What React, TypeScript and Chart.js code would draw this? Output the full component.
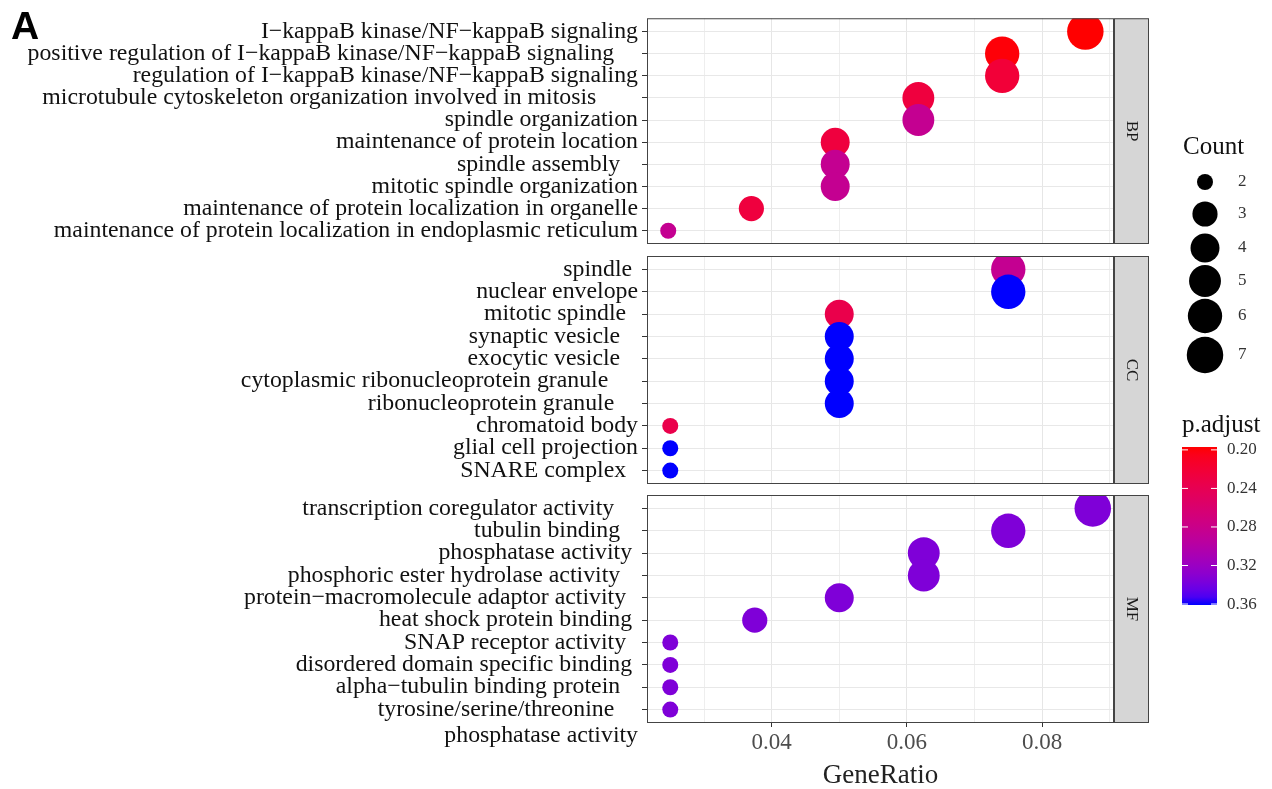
import React, { useEffect, useRef } from "react";
import { Chart, registerables } from "chart.js";
Chart.register(...registerables);

// ---------------- data ----------------
const bpTerms = [
  "I−kappaB kinase/NF−kappaB signaling",
  "positive regulation of I−kappaB kinase/NF−kappaB signaling    ",
  "regulation of I−kappaB kinase/NF−kappaB signaling",
  "microtubule cytoskeleton organization involved in mitosis       ",
  "spindle organization",
  "maintenance of protein location",
  "spindle assembly   ",
  "mitotic spindle organization",
  "maintenance of protein localization in organelle",
  "maintenance of protein localization in endoplasmic reticulum",
];
const bpGeneRatio = [0.0864, 0.0741, 0.0741, 0.0617, 0.0617, 0.0494, 0.0494, 0.0494, 0.037, 0.0247];
const bpCount = [7, 6, 6, 5, 5, 4, 4, 4, 3, 2];
const bpPadjust = [0.197, 0.199, 0.222, 0.226, 0.285, 0.226, 0.285, 0.285, 0.226, 0.285];

const ccTerms = [
  "spindle ",
  "nuclear envelope",
  "mitotic spindle  ",
  "synaptic vesicle   ",
  "exocytic vesicle   ",
  "cytoplasmic ribonucleoprotein granule     ",
  "ribonucleoprotein granule    ",
  "chromatoid body",
  "glial cell projection",
  "SNARE complex  ",
];
const ccGeneRatio = [0.075, 0.075, 0.05, 0.05, 0.05, 0.05, 0.05, 0.025, 0.025, 0.025];
const ccCount = [6, 6, 4, 4, 4, 4, 4, 2, 2, 2];
const ccPadjust = [0.285, 0.361, 0.235, 0.361, 0.361, 0.361, 0.361, 0.235, 0.361, 0.361];

const mfTerms = [
  "transcription coregulator activity    ",
  "tubulin binding   ",
  "phosphatase activity ",
  "phosphoric ester hydrolase activity   ",
  "protein−macromolecule adaptor activity  ",
  "heat shock protein binding ",
  "SNAP receptor activity  ",
  "disordered domain specific binding ",
  "alpha−tubulin binding protein   ",
  "tyrosine/serine/threonine    \nphosphatase activity",
];
const mfGeneRatio = [0.0875, 0.075, 0.0625, 0.0625, 0.05, 0.0375, 0.025, 0.025, 0.025, 0.025];
const mfCount = [7, 6, 5, 5, 4, 3, 2, 2, 2, 2];
const mfPadjust = [0.335, 0.335, 0.335, 0.335, 0.335, 0.335, 0.335, 0.335, 0.335, 0.335];

const xTickValues = [0.03, 0.04, 0.05, 0.06, 0.07, 0.08, 0.09];
const xMajorLabels = ["0.04", "0.06", "0.08"];
const countLegendValues = [2, 3, 4, 5, 6, 7];
const padjLegendValues = [0.2, 0.24, 0.28, 0.32, 0.36];
const panelNames = ["BP", "CC", "MF"];

// ---------------- helpers ----------------
const SERIF = "'Liberation Serif', 'Times New Roman', serif";
Chart.defaults.font.family = SERIF;

const allRatios = [...bpGeneRatio, ...ccGeneRatio, ...mfGeneRatio];
const allCounts = [...bpCount, ...ccCount, ...mfCount];
const allPadj = [...bpPadjust, ...ccPadjust, ...mfPadjust];
const rMin = Math.min(...allRatios);
const rMax = Math.max(...allRatios);
const X_MIN = rMin - (rMax - rMin) * 0.05;
const X_MAX = rMax + (rMax - rMin) * 0.05;
const cMin = Math.min(...allCounts);
const cMax = Math.max(...allCounts);
const pMin = Math.min(...allPadj);
const pMax = Math.max(...allPadj);

function sizeFor(c: number) {
  const t = (c - cMin) / (cMax - cMin);
  return (16 + Math.sqrt(t) * 20.5) / 2;
}

function s2l(c: number) {
  c /= 255;
  return c <= 0.04045 ? c / 12.92 : Math.pow((c + 0.055) / 1.055, 2.4);
}
function l2s(c: number) {
  const v = c <= 0.0031308 ? 12.92 * c : 1.055 * Math.pow(c, 1 / 2.4) - 0.055;
  return Math.round(Math.min(1, Math.max(0, v)) * 255);
}
function rgbToLab(rgb: number[]) {
  const R = s2l(rgb[0]), G = s2l(rgb[1]), B = s2l(rgb[2]);
  const X = (0.4124564 * R + 0.3575761 * G + 0.1804375 * B) / 0.95047;
  const Y = 0.2126729 * R + 0.7151522 * G + 0.072175 * B;
  const Z = (0.0193339 * R + 0.119192 * G + 0.9503041 * B) / 1.08883;
  const f = (t: number) => (t > 216 / 24389 ? Math.cbrt(t) : ((24389 / 27) * t + 16) / 116);
  const fx = f(X), fy = f(Y), fz = f(Z);
  return [116 * fy - 16, 500 * (fx - fy), 200 * (fy - fz)];
}
function labToRgb(lab: number[]) {
  const fy = (lab[0] + 16) / 116;
  const fx = fy + lab[1] / 500;
  const fz = fy - lab[2] / 200;
  const finv = (t: number) => (t * t * t > 216 / 24389 ? t * t * t : (116 * t - 16) / (24389 / 27));
  const X = finv(fx) * 0.95047, Y = finv(fy), Z = finv(fz) * 1.08883;
  const R = 3.2404542 * X - 1.5371385 * Y - 0.4985314 * Z;
  const G = -0.969266 * X + 1.8760108 * Y + 0.041556 * Z;
  const B = 0.0556434 * X - 0.2040259 * Y + 1.0572252 * Z;
  return [l2s(R), l2s(G), l2s(B)];
}
const LAB_LOW = rgbToLab([255, 0, 0]);
const LAB_HIGH = rgbToLab([0, 0, 255]);
function colorAt(t: number) {
  const lab = LAB_LOW.map((v, i) => v + (LAB_HIGH[i] - v) * t);
  const [r, g, b] = labToRgb(lab);
  return `rgb(${r},${g},${b})`;
}
function colorFor(p: number) {
  return colorAt((p - pMin) / (pMax - pMin));
}

// ---------------- layout ----------------
const W = 1272;
const H = 789;
const PLOT_LEFT = 647;
const PLOT_RIGHT = 1114;
const STRIP_W = 35;
const PANELS = [
  { top: 16, bottom: 244 },
  { top: 256, bottom: 484 },
  { top: 495, bottom: 723 },
];

function framePlugin(name: string) {
  return {
    id: "frame" + name,
    afterDatasetsDraw(chart: any) {
      const { ctx, chartArea } = chart;
      const { left, right, top, bottom } = chartArea;
      ctx.save();
      ctx.strokeStyle = "#444";
      ctx.lineWidth = 1;
      ctx.strokeRect(left + 0.5, top + 0.5, right - left - 1, bottom - top - 1);
      // strip
      ctx.fillStyle = "#d6d6d6";
      ctx.fillRect(right, top, STRIP_W, bottom - top);
      ctx.strokeStyle = "#444";
      ctx.strokeRect(right + 0.5, top + 0.5, STRIP_W - 1, bottom - top - 1);
      ctx.translate(right + STRIP_W / 2, (top + bottom) / 2);
      ctx.rotate(Math.PI / 2);
      ctx.fillStyle = "#1a1a1a";
      ctx.font = `17px ${SERIF}`;
      ctx.textAlign = "center";
      ctx.textBaseline = "middle";
      ctx.fillText(name, 0, 0);
      ctx.restore();
    },
  };
}

const legendPlugin = {
  id: "legendPlugin",
  afterDraw(chart: any) {
    const ctx = chart.ctx;
    ctx.save();
    // panel tag
    ctx.fillStyle = "#000";
    ctx.font = `bold 39px 'Liberation Sans', Arial, sans-serif`;
    ctx.textAlign = "left";
    ctx.textBaseline = "alphabetic";
    ctx.fillText("A", 11, 39);

    // Count legend
    ctx.font = `25px ${SERIF}`;
    ctx.fillStyle = "#111";
    ctx.textBaseline = "middle";
    ctx.fillText("Count", 1183, 147);
    const keyY = [182, 214, 248, 281, 316, 355];
    countLegendValues.forEach((c, i) => {
      ctx.beginPath();
      ctx.fillStyle = "#000";
      ctx.arc(1205, keyY[i], sizeFor(c), 0, Math.PI * 2);
      ctx.fill();
      ctx.fillStyle = "#333";
      ctx.font = `17px ${SERIF}`;
      ctx.fillText(String(c), 1238, keyY[i]);
    });

    // p.adjust colourbar
    ctx.font = `25px ${SERIF}`;
    ctx.fillStyle = "#111";
    ctx.fillText("p.adjust", 1182, 425);
    const bx = 1182, bw = 35, by0 = 447, by1 = 605;
    const grad = ctx.createLinearGradient(0, by0, 0, by1);
    for (let i = 0; i <= 20; i++) grad.addColorStop(i / 20, colorAt(i / 20));
    ctx.fillStyle = grad;
    ctx.fillRect(bx, by0, bw, by1 - by0);
    ctx.font = `17px ${SERIF}`;
    padjLegendValues.forEach((v) => {
      const y = by0 + ((v - pMin) / (pMax - pMin)) * (by1 - by0);
      ctx.strokeStyle = "#fff";
      ctx.lineWidth = 1;
      ctx.beginPath();
      ctx.moveTo(bx, y);
      ctx.lineTo(bx + 6, y);
      ctx.moveTo(bx + bw - 6, y);
      ctx.lineTo(bx + bw, y);
      ctx.stroke();
      ctx.fillStyle = "#333";
      ctx.fillText(v.toFixed(2), 1227, y);
    });
    ctx.restore();
  },
};

function makeConfig(idx: number, terms: string[], ratio: number[], count: number[], padj: number[]) {
  const isBottom = idx === 2;
  const p = PANELS[idx];
  const xAxisH = isBottom ? H - p.bottom : 0;
  const plugins: any[] = [framePlugin(panelNames[idx])];
  if (idx === 0) plugins.push(legendPlugin);
  return {
    type: "scatter" as const,
    data: {
      datasets: [
        {
          data: terms.map((_, i) => ({ x: ratio[i], y: i })),
          pointRadius: count.map(sizeFor),
          pointHoverRadius: count.map(sizeFor),
          pointBackgroundColor: padj.map(colorFor),
          pointBorderWidth: 0,
          clip: 0,
        },
      ],
    },
    options: {
      responsive: false,
      animation: false as const,
      events: [] as any[],
      layout: {
        padding: { top: p.top, bottom: H - p.bottom - xAxisH, left: 0, right: W - PLOT_RIGHT },
      },
      plugins: { legend: { display: false }, tooltip: { enabled: false } },
      scales: {
        x: {
          type: "linear" as const,
          min: X_MIN,
          max: X_MAX,
          afterBuildTicks: (s: any) => {
            s.ticks = xTickValues.map((v) => ({ value: v }));
          },
          afterFit: (s: any) => {
            s.height = xAxisH;
          },
          ticks: {
            display: isBottom,
            autoSkip: false,
            maxRotation: 0,
            padding: 2,
            color: "#4d4d4d",
            font: { size: 23, family: SERIF },
            callback: (v: any) => {
              const s = Number(v).toFixed(2);
              return xMajorLabels.includes(s) ? s : "";
            },
          },
          grid: {
            color: (c: any) => {
              const s = c.tick ? Number(c.tick.value).toFixed(2) : "";
              return xMajorLabels.includes(s) ? "#e6e6e6" : "#eeeeee";
            },
            lineWidth: 1,
            drawTicks: isBottom,
            tickLength: 4,
            tickColor: (c: any) => {
              const s = c.tick ? Number(c.tick.value).toFixed(2) : "";
              return xMajorLabels.includes(s) ? "#333" : "rgba(0,0,0,0)";
            },
          },
          border: { display: false },
          title: {
            display: isBottom,
            text: "GeneRatio",
            color: "#222",
            font: { size: 27, family: SERIF, lineHeight: 1.0 },
            padding: 0,
          },
        },
        y: {
          type: "linear" as const,
          reverse: true,
          min: -0.6,
          max: terms.length - 0.4,
          afterBuildTicks: (s: any) => {
            s.ticks = terms.map((_, i) => ({ value: i }));
          },
          afterFit: (s: any) => {
            s.width = PLOT_LEFT;
          },
          ticks: {
            autoSkip: false,
            padding: 4,
            color: "#111",
            font: { size: 23.8, family: SERIF, lineHeight: 1.08 },
            callback: (_v: any, i: number) => {
              const parts = terms[i].split("\n");
              return parts.length > 1 ? ["", ...parts] : parts[0];
            },
          },
          grid: {
            color: "#e8e8e8",
            lineWidth: 1,
            drawTicks: true,
            tickLength: 5,
            tickColor: "#333",
          },
          border: { display: false },
        },
      },
    },
    plugins,
  };
}

export default function App() {
  const r0 = useRef<HTMLCanvasElement>(null);
  const r1 = useRef<HTMLCanvasElement>(null);
  const r2 = useRef<HTMLCanvasElement>(null);
  useEffect(() => {
    const charts = [
      new Chart(r0.current as HTMLCanvasElement, makeConfig(0, bpTerms, bpGeneRatio, bpCount, bpPadjust) as any),
      new Chart(r1.current as HTMLCanvasElement, makeConfig(1, ccTerms, ccGeneRatio, ccCount, ccPadjust) as any),
      new Chart(r2.current as HTMLCanvasElement, makeConfig(2, mfTerms, mfGeneRatio, mfCount, mfPadjust) as any),
    ];
    return () => charts.forEach((c) => c.destroy());
  }, []);
  const cs: React.CSSProperties = { position: "absolute", left: 0, top: 0, width: W, height: H };
  return (
    <div style={{ position: "fixed", left: 0, top: 0, width: W, height: H, background: "#fff" }}>
      <canvas ref={r0} width={W} height={H} style={cs} />
      <canvas ref={r1} width={W} height={H} style={cs} />
      <canvas ref={r2} width={W} height={H} style={cs} />
    </div>
  );
}
